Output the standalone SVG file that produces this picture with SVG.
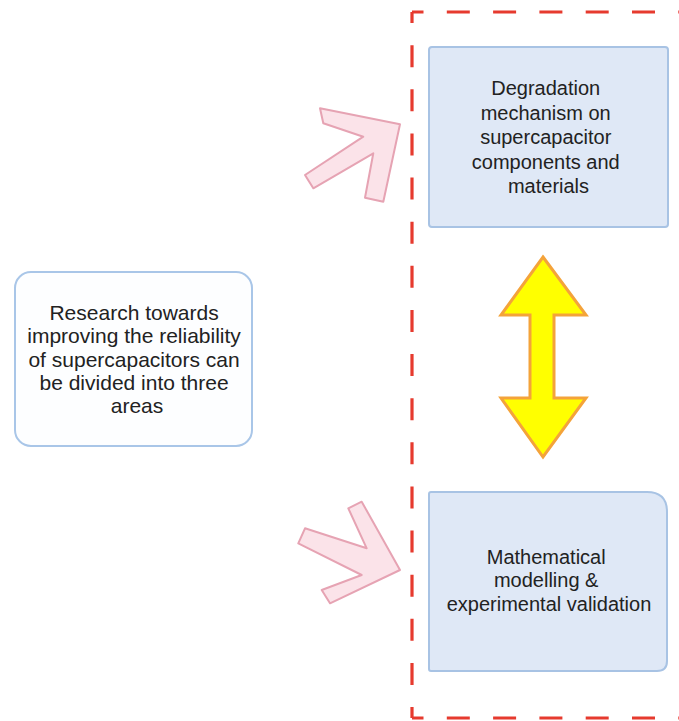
<svg xmlns="http://www.w3.org/2000/svg" width="679" height="721" viewBox="0 0 679 721">
  <style>
    .label { font-family: "Liberation Sans", Arial, sans-serif; fill: #222222; text-anchor: middle; }
    .boxBlue { fill: #dfe8f6; stroke: #a8c3e4; stroke-width: 2; }
    .boxWhite { fill: #fdfeff; stroke: #a9c6e8; stroke-width: 2; }
    .frame { fill: none; stroke: #e63a2e; stroke-width: 3.2; }
    .pink { fill: #fbe3e9; stroke: #e6a3b3; stroke-width: 2; stroke-linejoin: round; }
    .yellow { fill: #ffff00; stroke: #f4a33a; stroke-width: 3; stroke-linejoin: miter; }
  </style>

  <rect width="679" height="721" fill="#ffffff"/>

  <!-- dashed boundary around the two research areas -->
  <g id="boundary">
    <path class="frame" d="M412 12 H720" stroke-dasharray="23 23.3" stroke-dashoffset="11.5"/>
    <path class="frame" d="M412 718 H720" stroke-dasharray="23 23.3" stroke-dashoffset="11.5"/>
    <path class="frame" d="M412 12 V718" stroke-dasharray="22 22.125" stroke-dashoffset="11"/>
  </g>

  <g id="node-research">
    <rect class="boxWhite" x="15" y="272" width="237" height="174" rx="16"/>
    <text class="label" font-size="21">
      <tspan x="137" y="320">Research towards</tspan>
      <tspan x="137" y="343">improving the reliability</tspan>
      <tspan x="137" y="366.5">of supercapacitors can</tspan>
      <tspan x="137" y="390">be divided into three</tspan>
      <tspan x="137" y="413">areas</tspan>
    </text>
  </g>

  <g id="node-degradation">
    <rect class="boxBlue" x="429" y="47" width="239" height="180" rx="3"/>
    <text class="label" font-size="20">
      <tspan x="548.5" y="95">Degradation</tspan>
      <tspan x="548.5" y="119.5">mechanism on</tspan>
      <tspan x="548.5" y="144">supercapacitor</tspan>
      <tspan x="548.5" y="168.5">components and</tspan>
      <tspan x="548.5" y="193">materials</tspan>
    </text>
  </g>

  <g id="node-modelling">
    <path class="boxBlue" d="M431 492 H647 Q667 492 667 512 V661 Q667 671 657 671 H431 Q429 671 429 669 V494 Q429 492 431 492 Z"/>
    <text class="label" font-size="20">
      <tspan x="549" y="563.5">Mathematical</tspan>
      <tspan x="549" y="587">modelling &amp;</tspan>
      <tspan x="549" y="610.5">experimental validation</tspan>
    </text>
  </g>

  <g id="connectors">
    <!-- open arrow pointing into the upper area -->
    <path class="pink" d="M320 108.3 L400 124.3 L383.3 201.7 L365 197.7 L373.3 153.3 L313.3 188.3 L305 175 L363.3 136.7 L323.3 123.3 Z"/>
    <!-- open arrow pointing into the lower area -->
    <path class="pink" d="M348.3 508.3 L361.7 501.7 L400 570 L330 603.3 L321.7 590 L361.7 575 L298.3 543.3 L305 528.3 L366.7 548.3 Z"/>
    <!-- two-way link between the two areas -->
    <path class="yellow" d="M543 257 L586 315 L554 315 L554 398 L586 398 L543 457 L501 398 L530 398 L530 315 L501 315 Z"/>
  </g>
</svg>
